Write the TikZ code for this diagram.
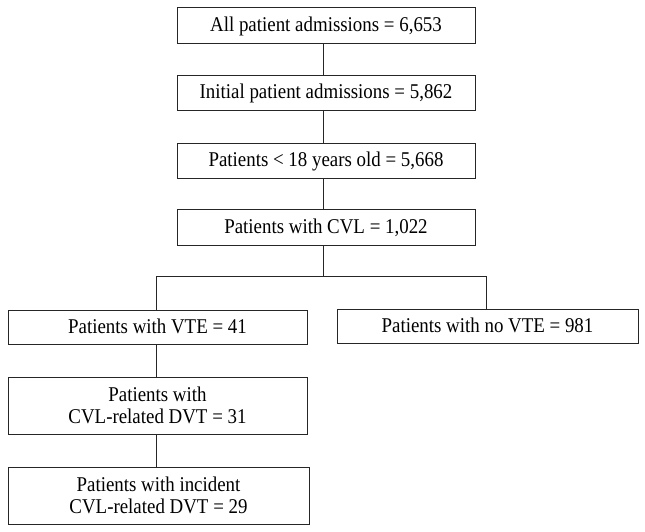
\documentclass[tikz,border=0pt]{standalone}
\usepackage{fontspec}
\setmainfont{Liberation Serif}[FakeStretch=0.9]
\begin{document}
\begin{tikzpicture}[x=1pt,y=-1pt,
  stagebox/.style={draw=black!85, line width=0.9pt, rectangle, inner sep=0pt,
    align=center, font=\fontsize{21}{21.6}\selectfont},
  oneline/.style={stagebox, text height=13pt, text depth=0pt},
  twoline/.style={stagebox, text height=35pt, text depth=0pt},
  link/.style={draw=black!85, line width=0.9pt}]
\useasboundingbox[fill=white] (0,0) rectangle (645,532);
\node[oneline, minimum width=298pt, minimum height=36pt] (b1) at (326,25) {All patient admissions = 6,653};
\node[oneline, minimum width=298pt, minimum height=35pt] (b2) at (326,92.5) {Initial patient admissions = 5,862};
\node[oneline, minimum width=298pt, minimum height=35pt] (b3) at (326,160.5) {Patients < 18 years old = 5,668};
\node[oneline, minimum width=298pt, minimum height=36pt] (b4) at (326,227) {Patients with CVL = 1,022};
\node[oneline, minimum width=299pt, minimum height=34pt] (vte) at (157.5,327) {Patients with VTE = 41};
\node[oneline, minimum width=301pt, minimum height=34pt] (novte) at (487.5,326) {Patients with no VTE = 981};
\node[twoline, minimum width=299pt, minimum height=57pt] (dvt) at (157.5,405.5) {Patients with\\CVL-related DVT = 31};
\node[twoline, minimum width=301pt, minimum height=57pt] (inc) at (158.5,495.5) {Patients with incident\\CVL-related DVT = 29};
\coordinate (tr) at (323,0);
\coordinate (split) at (323,276);
\coordinate (lt) at (156,0);
\coordinate (rt) at (486,0);
\draw[link] (b1.south -| tr) -- (b2.north -| tr);
\draw[link] (b2.south -| tr) -- (b3.north -| tr);
\draw[link] (b3.south -| tr) -- (b4.north -| tr);
\draw[link] (b4.south -| tr) -- (split);
\draw[link] (vte.north -| lt) -- (split -| lt) -- (split -| rt) -- (novte.north -| rt);
\draw[link] (vte.south -| lt) -- (dvt.north -| lt);
\draw[link] (dvt.south -| lt) -- (inc.north -| lt);
\end{tikzpicture}
\end{document}
